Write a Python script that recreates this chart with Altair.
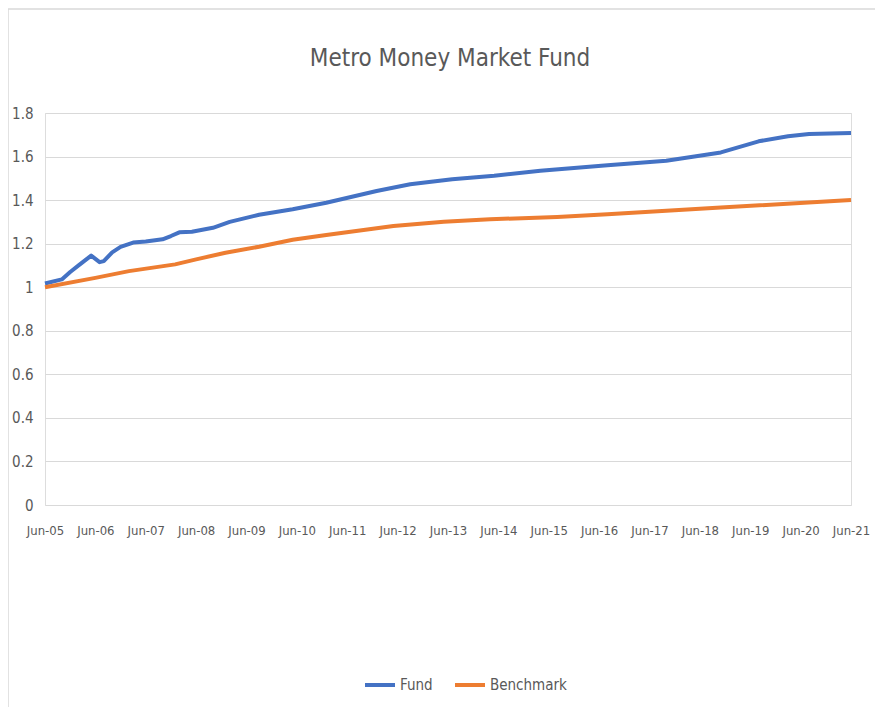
import altair as alt
import pandas as pd

# ---- data (x = months since Jun-05) ----
fund_months = [0, 4, 6, 8, 10, 11, 13, 14, 16, 18, 21, 24, 28, 30, 32, 35, 40, 44,
               51, 59, 67, 79, 87, 97, 107, 118, 134, 148, 161, 170, 177, 182, 192]
fund_values = [1.017, 1.036, 1.07, 1.10, 1.13, 1.145, 1.115, 1.12, 1.16, 1.185, 1.205,
               1.21, 1.22, 1.235, 1.252, 1.255, 1.273, 1.30, 1.333, 1.358, 1.388,
               1.442, 1.473, 1.496, 1.512, 1.535, 1.56, 1.581, 1.619, 1.670, 1.693,
               1.704, 1.708]

bench_months = [0, 12, 20, 31, 36, 43, 51, 59, 67, 71, 83, 95, 106, 122, 134, 161, 192]
bench_values = [1.0, 1.043, 1.074, 1.105, 1.128, 1.158, 1.186, 1.218, 1.240, 1.25,
                1.281, 1.301, 1.312, 1.323, 1.335, 1.366, 1.40]

series_names = ["Fund", "Benchmark"]
series_colors = ["#4472C4", "#ED7D31"]
x_tick_months = list(range(0, 193, 12))
y_ticks = [0, 0.2, 0.4, 0.6, 0.8, 1, 1.2, 1.4, 1.6, 1.8]
title_text = "Metro Money Market Fund"

FONT = "DejaVu Sans Condensed, Liberation Sans Narrow, sans-serif"
GREY = "#595959"

df = pd.concat([
    pd.DataFrame({"m": fund_months, "v": fund_values, "series": series_names[0]}),
    pd.DataFrame({"m": bench_months, "v": bench_values, "series": series_names[1]}),
], ignore_index=True)

lines = alt.Chart(df).mark_line(strokeWidth=4, strokeJoin="round").encode(
    x=alt.X("m:Q",
            scale=alt.Scale(domain=[0, 192], nice=False, zero=False),
            axis=alt.Axis(values=x_tick_months,
                          labelExpr="'Jun-' + (datum.value/12 + 5 < 10 ? '0' : '') + (datum.value/12 + 5)",
                          grid=False, ticks=False, domain=False, labelOverlap=False,
                          labelFlush=False,
                          labelPadding=19, labelFontSize=13, labelFont=FONT,
                          labelColor=GREY, title=None)),
    y=alt.Y("v:Q",
            scale=alt.Scale(domain=[0, 1.8], nice=False),
            axis=alt.Axis(values=y_ticks, format="~g", grid=True, gridColor="#d9d9d9",
                          gridWidth=1, domain=False, ticks=False, labelPadding=12,
                          labelFontSize=15, labelFont=FONT, labelColor=GREY, title=None)),
    color=alt.Color("series:N",
                    scale=alt.Scale(domain=series_names, range=series_colors),
                    legend=alt.Legend(orient="none", direction="horizontal",
                                      legendX=318, legendY=555, title=None,
                                      symbolType="stroke", symbolSize=900,
                                      symbolStrokeWidth=4, labelFontSize=15,
                                      labelFont=FONT, labelColor=GREY,
                                      labelOffset=3, columnPadding=14)),
)

title = alt.Chart(pd.DataFrame({"t": [title_text]})).mark_text(
    fontSize=24, font=FONT, color=GREY, align="center", baseline="alphabetic"
).encode(x=alt.value(405), y=alt.value(-47), text="t:N")

frame_left = alt.Chart(pd.DataFrame({"a": [0]})).mark_rule(color="#d9d9d9", strokeWidth=1.5).encode(
    x=alt.value(-37), y=alt.value(-104), y2=alt.value(602))
frame_top = alt.Chart(pd.DataFrame({"a": [0]})).mark_rule(color="#d9d9d9", strokeWidth=1.5).encode(
    x=alt.value(-37), x2=alt.value(830), y=alt.value(-104))

chart = alt.layer(frame_left, frame_top, lines, title).properties(
    width=806, height=392,
    autosize=alt.AutoSizeParams(type="none"),
    padding={"left": 37, "top": 105, "right": 24, "bottom": 202},
).configure_view(stroke=None).configure(background="white")

chart.save("out.html", embed_options={"renderer": "svg", "actions": False})
